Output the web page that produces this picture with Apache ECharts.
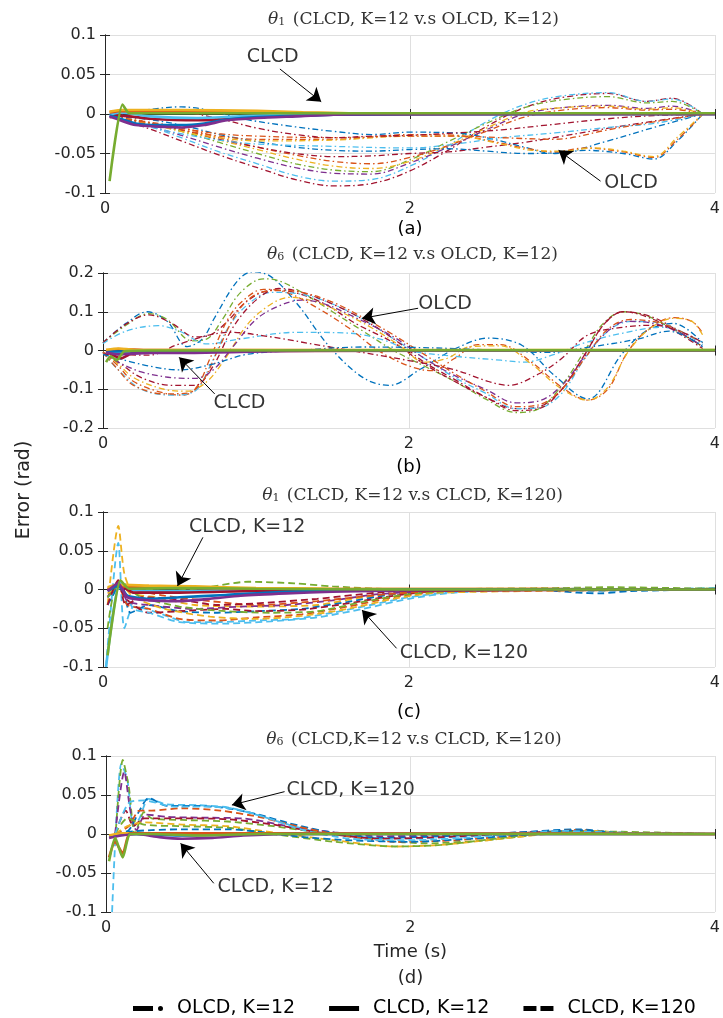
<!DOCTYPE html>
<html>
<head>
<meta charset="UTF-8">
<title>Tracking error, CLCD vs OLCD</title>
<script src="https://cdn.jsdelivr.net/npm/echarts@6/dist/echarts.min.js"></script>
<style>html,body,#container{width:100%;height:100%;margin:0;padding:0;background:#fff;}</style>
</head>
<body>
<div id="container"></div>
<script>
// MATLAB default colour order
var col = {blue:'#0072BD', orange:'#D95319', yellow:'#EDB120', purple:'#7E2F8E', green:'#77AC30', lblue:'#4DBEEE', red:'#A2142F'};

// ---------- (a) theta1, CLCD K=12 vs OLCD K=12 ----------
var aOlRed1 = [[0.05,-0.003],[0.1,-0.008],[0.25,-0.016],[0.5,-0.034],[0.75,-0.052],[1,-0.068],[1.25,-0.083],[1.5,-0.091],[1.75,-0.088],[2,-0.072],[2.25,-0.046],[2.5,-0.016],[2.75,0.008],[3,0.021],[3.3,0.026],[3.55,0.016],[3.72,0.02],[3.92,0]];
var aOlLblue1 = [[0.05,-0.002],[0.1,-0.006],[0.25,-0.013],[0.5,-0.03],[0.75,-0.048],[1,-0.063],[1.25,-0.078],[1.5,-0.085],[1.75,-0.083],[2,-0.066],[2.25,-0.04],[2.5,-0.01],[2.75,0.012],[3,0.023],[3.3,0.027],[3.55,0.016],[3.72,0.019],[3.92,0]];
var aOlPurple1 = [[0.05,-0.003],[0.1,-0.008],[0.25,-0.013],[0.5,-0.027],[0.75,-0.042],[1,-0.056],[1.25,-0.068],[1.5,-0.075],[1.75,-0.076],[2,-0.062],[2.25,-0.042],[2.5,-0.02],[2.75,0],[3,0.008],[3.3,0.011],[3.55,0.007],[3.72,0.01],[3.92,0]];
var aOlGreen1 = [[0.05,-0.002],[0.1,-0.006],[0.25,-0.01],[0.5,-0.022],[0.75,-0.036],[1,-0.05],[1.25,-0.063],[1.5,-0.071],[1.75,-0.073],[2,-0.058],[2.25,-0.035],[2.5,-0.012],[2.75,0.008],[3,0.018],[3.3,0.022],[3.55,0.014],[3.72,0.016],[3.92,0]];
var aOlYellow1 = [[0.05,-0.002],[0.1,-0.005],[0.25,-0.01],[0.5,-0.02],[0.75,-0.033],[1,-0.045],[1.25,-0.057],[1.5,-0.066],[1.75,-0.069],[2,-0.06],[2.25,-0.04],[2.5,-0.018],[2.75,0.002],[3,0.008],[3.3,0.01],[3.55,0.006],[3.72,0.008],[3.92,0]];
var aOlOrange1 = [[0.05,-0.002],[0.1,-0.005],[0.25,-0.009],[0.5,-0.017],[0.75,-0.03],[1,-0.042],[1.25,-0.052],[1.5,-0.06],[1.75,-0.063],[2,-0.055],[2.25,-0.04],[2.5,-0.022],[2.75,-0.004],[3,0.005],[3.3,0.008],[3.55,0.005],[3.72,0.006],[3.92,0]];
var aOlRed2 = [[0.05,-0.003],[0.1,-0.006],[0.25,-0.01],[0.5,-0.02],[0.75,-0.032],[1,-0.042],[1.25,-0.05],[1.5,-0.054],[1.75,-0.053],[2,-0.05],[2.25,-0.048],[2.5,-0.042],[2.75,-0.036],[3,-0.028],[3.3,-0.018],[3.6,-0.009],[3.92,0]];
var aOlBlue1 = [[0.05,-0.002],[0.1,-0.004],[0.25,-0.006],[0.5,-0.014],[0.75,-0.026],[1,-0.035],[1.25,-0.042],[1.5,-0.046],[1.75,-0.047],[2,-0.045],[2.25,-0.044],[2.5,-0.047],[2.75,-0.05],[2.98,-0.049],[3.3,-0.034],[3.6,-0.017],[3.92,0]];
var aOlBlue2 = [[0.05,-0.002],[0.15,0.001],[0.3,0.006],[0.5,0.009],[0.7,0.004],[0.9,-0.006],[1.2,-0.015],[1.5,-0.022],[1.75,-0.026],[2,-0.023],[2.3,-0.024],[2.55,-0.032],[2.75,-0.042],[2.95,-0.05],[3.15,-0.046],[3.4,-0.05],[3.6,-0.057],[3.75,-0.035],[3.92,0]];
var aOlOrange2 = [[0.05,-0.004],[0.2,-0.01],[0.5,-0.02],[0.75,-0.028],[1,-0.032],[1.5,-0.032],[2,-0.026],[2.3,-0.027],[2.55,-0.035],[2.75,-0.043],[2.95,-0.048],[3.15,-0.043],[3.4,-0.048],[3.6,-0.055],[3.75,-0.033],[3.92,0]];
var aOlYellow2 = [[0.05,-0.004],[0.2,-0.008],[0.5,-0.022],[0.75,-0.03],[1,-0.034],[1.5,-0.033],[2,-0.028],[2.3,-0.028],[2.6,-0.038],[2.8,-0.046],[3,-0.047],[3.2,-0.043],[3.4,-0.047],[3.6,-0.054],[3.75,-0.03],[3.92,0]];
var aOlLblue2 = [[0.05,-0.003],[0.2,-0.012],[0.5,-0.025],[0.75,-0.033],[1,-0.038],[1.5,-0.041],[2,-0.043],[2.3,-0.038],[2.6,-0.03],[2.95,-0.024],[3.3,-0.017],[3.6,-0.012],[3.92,0]];
var aOlOrange3 = [[0.05,-0.003],[0.2,-0.008],[0.5,-0.018],[0.75,-0.025],[1,-0.028],[1.5,-0.03],[2,-0.028],[2.3,-0.028],[2.6,-0.03],[2.95,-0.032],[3.3,-0.02],[3.6,-0.01],[3.92,0]];
var aOlRed3 = [[0.05,-0.002],[0.25,0.005],[0.5,0.003],[0.75,-0.006],[1,-0.018],[1.25,-0.026],[1.5,-0.03],[1.75,-0.028],[2,-0.027],[2.3,-0.024],[2.6,-0.02],[2.9,-0.014],[3.3,-0.006],[3.6,-0.002],[3.92,0]];

var aClPurple = [[0.03,-0.003],[0.1,-0.008],[0.2,-0.014],[0.35,-0.016],[0.5,-0.017],[0.65,-0.014],[0.8,-0.008],[1,-0.005],[1.25,-0.003],[1.5,-0.001],[2,0],[4,0]];
var aClBlue = [[0.03,-0.002],[0.1,-0.006],[0.2,-0.012],[0.35,-0.014],[0.5,-0.014],[0.65,-0.012],[0.8,-0.007],[1,-0.004],[1.5,-0.001],[2,0],[4,0]];
var aClYellow = [[0.03,0.003],[0.1,0.005],[0.5,0.005],[1,0.004],[1.3,0.002],[1.6,0.001],[4,0.001]];
var aClOrange = [[0.03,0.002],[0.1,0.004],[0.5,0.003],[1,0.002],[1.5,0.001],[4,0]];
var aClRed = [[0.03,-0.004],[0.1,-0.002],[0.3,-0.006],[0.6,-0.008],[1,-0.004],[1.5,-0.001],[4,0]];
var aClLblue = [[0.03,-0.001],[0.1,0.002],[0.3,-0.003],[0.6,-0.005],[1,-0.002],[1.5,0],[4,0]];
var aClGreen = [[0.03,-0.085],[0.115,0.012],[0.16,0.001],[0.5,0.001],[1,0.001],[2,0.001],[3,0.001],[4,0.001]];

var aLabels = [[1.10,0.072,'CLCD'],[3.45,-0.087,'OLCD']];
var aArrows = [[1.147,0.057,1.418,0.0156],[3.25,-0.085,2.975,-0.046]];

// ---------- (b) theta6, CLCD K=12 vs OLCD K=12 ----------
var bOlBlue1 = [[0,0.02],[0.15,0.07],[0.29,0.1],[0.42,0.075],[0.55,0.01],[0.65,0.03],[0.73,0.085],[0.88,0.18],[0.98,0.203],[1.1,0.19],[1.27,0.12],[1.48,0.01],[1.7,-0.07],[1.87,-0.09],[2.08,-0.047],[2.3,0.004],[2.52,0.032],[2.74,0.013],[2.95,-0.064],[3.17,-0.125],[3.39,-0.01],[3.55,0.05],[3.73,0.07],[3.92,0.02]];
var bOlGreen1 = [[0,0.02],[0.15,0.065],[0.3,0.095],[0.42,0.08],[0.58,0.025],[0.68,0.03],[0.78,0.08],[0.9,0.15],[1.05,0.185],[1.15,0.18],[1.3,0.15],[1.5,0.1],[1.7,0.05],[1.9,0],[2.1,-0.04],[2.3,-0.08],[2.5,-0.125],[2.7,-0.16],[2.85,-0.15],[3,-0.09],[3.15,0],[3.27,0.07],[3.4,0.1],[3.55,0.09],[3.75,0.05],[3.92,0.01]];
var bOlRed1 = [[0,0.02],[0.15,0.068],[0.3,0.092],[0.45,0.07],[0.6,0.035],[0.7,0.04],[0.8,0.07],[0.95,0.13],[1.1,0.155],[1.25,0.15],[1.45,0.12],[1.65,0.07],[1.9,0.02],[2.1,-0.035],[2.3,-0.08],[2.5,-0.12],[2.7,-0.15],[2.85,-0.145],[3,-0.1],[3.15,-0.01],[3.28,0.07],[3.4,0.1],[3.6,0.085],[3.78,0.045],[3.92,0.01]];
var bOlLblue1 = [[0,0.018],[0.15,0.05],[0.36,0.064],[0.5,0.05],[0.68,0.017],[0.9,0.03],[1.27,0.047],[1.6,0.045],[1.85,0.025],[2,0],[2.3,-0.015],[2.6,-0.025],[2.75,-0.03],[2.95,-0.01],[3.15,0.02],[3.4,0.045],[3.65,0.06],[3.8,0.045],[3.92,0.02]];
var bOlOrange1 = [[0,-0.005],[0.1,-0.04],[0.2,-0.08],[0.4,-0.11],[0.53,-0.115],[0.62,-0.09],[0.7,-0.02],[0.83,0.09],[0.95,0.14],[1.05,0.158],[1.2,0.15],[1.4,0.11],[1.6,0.06],[1.8,0],[2,-0.04],[2.15,-0.052],[2.3,-0.02],[2.45,0.015],[2.6,0.015],[2.8,-0.03],[3,-0.095],[3.17,-0.128],[3.3,-0.1],[3.42,-0.01],[3.55,0.05],[3.73,0.085],[3.85,0.075],[3.92,0.045]];
var bOlYellow1 = [[0,-0.003],[0.1,-0.035],[0.2,-0.07],[0.4,-0.1],[0.55,-0.105],[0.68,-0.08],[0.8,-0.02],[0.95,0.07],[1.1,0.12],[1.22,0.137],[1.35,0.13],[1.55,0.1],[1.75,0.06],[1.95,0.01],[2.1,-0.03],[2.25,-0.02],[2.4,0.01],[2.6,0.012],[2.8,-0.035],[3,-0.1],[3.17,-0.128],[3.3,-0.095],[3.43,-0.005],[3.57,0.055],[3.73,0.083],[3.85,0.075],[3.92,0.04]];
var bOlLblue2 = [[0,-0.005],[0.1,-0.05],[0.25,-0.1],[0.45,-0.115],[0.6,-0.105],[0.7,-0.04],[0.82,0.06],[0.95,0.12],[1.1,0.15],[1.3,0.145],[1.5,0.12],[1.7,0.08],[1.9,0.03],[2.1,-0.02],[2.3,-0.07],[2.5,-0.11],[2.7,-0.15],[2.85,-0.148],[3,-0.11],[3.15,-0.02],[3.3,0.05],[3.45,0.075],[3.65,0.07],[3.8,0.045],[3.92,0.015]];
var bOlRed2 = [[0,-0.005],[0.1,-0.03],[0.25,-0.07],[0.45,-0.09],[0.6,-0.09],[0.72,-0.04],[0.85,0.06],[1,0.13],[1.15,0.16],[1.3,0.15],[1.5,0.12],[1.7,0.08],[1.9,0.03],[2.1,-0.03],[2.3,-0.075],[2.5,-0.12],[2.7,-0.155],[2.85,-0.15],[3,-0.1],[3.15,-0.01],[3.28,0.07],[3.4,0.1],[3.6,0.08],[3.78,0.04],[3.92,0.005]];
var bOlPurple1 = [[0,-0.005],[0.1,-0.03],[0.25,-0.055],[0.45,-0.07],[0.6,-0.072],[0.72,-0.05],[0.85,0.01],[1,0.08],[1.15,0.115],[1.3,0.13],[1.45,0.12],[1.65,0.085],[1.9,0.035],[2.1,-0.02],[2.3,-0.065],[2.5,-0.1],[2.7,-0.135],[2.85,-0.13],[3,-0.09],[3.15,-0.015],[3.3,0.05],[3.42,0.075],[3.6,0.07],[3.8,0.04],[3.92,0.01]];
var bOlOrange2 = [[0,-0.005],[0.1,-0.05],[0.2,-0.09],[0.4,-0.112],[0.55,-0.11],[0.65,-0.08],[0.75,0],[0.88,0.1],[1,0.145],[1.15,0.155],[1.3,0.15],[1.5,0.125],[1.7,0.085],[1.9,0.04],[2.1,-0.01],[2.3,-0.06],[2.5,-0.105],[2.7,-0.145],[2.85,-0.14],[3,-0.1],[3.15,-0.02],[3.3,0.055],[3.45,0.08],[3.65,0.07],[3.8,0.045],[3.92,0.02]];
var bOlRed3 = [[0,-0.01],[0.3,-0.012],[0.5,0.017],[0.83,0.047],[1.05,0.038],[1.48,0.009],[2,-0.026],[2.3,-0.05],[2.52,-0.08],[2.65,-0.09],[2.85,-0.06],[3,-0.02],[3.17,0.04],[3.4,0.06],[3.6,0.065],[3.8,0.045],[3.92,0.02]];
var bOlBlue2 = [[0,-0.01],[0.3,-0.04],[0.5,-0.05],[0.72,-0.035],[0.94,-0.01],[1.27,0],[1.7,0.009],[2,0.008],[2.3,0.005],[2.6,0],[2.9,-0.005],[3.2,0.01],[3.5,0.03],[3.7,0.05],[3.92,0.01]];

var bClPurple = [[0.02,-0.005],[0.1,-0.01],[0.3,-0.006],[0.6,-0.006],[0.9,-0.004],[1.2,-0.001],[1.6,0],[4,0]];
var bClYellow = [[0.02,0.002],[0.1,0.005],[0.2,0.002],[4,0.001]];
var bClBlue = [[0.02,-0.003],[0.3,-0.002],[1,0],[4,0]];
var bClRed = [[0.02,-0.002],[0.12,-0.02],[0.2,-0.005],[0.5,-0.002],[4,0]];
var bClOrange = [[0.02,-0.004],[0.1,0.004],[0.3,0.001],[4,0]];
var bClGreen = [[0.02,-0.03],[0.05,-0.015],[0.09,-0.025],[0.14,-0.002],[0.3,0],[4,0.001]];

var bLabels = [[2.236,0.119,'OLCD'],[0.892,-0.1355,'CLCD']];
var bArrows = [[2.06,0.109,1.693,0.083],[0.73,-0.112,0.4976,-0.0176]];

// ---------- (c) theta1, CLCD K=12 vs CLCD K=120 ----------
var cK120Yellow1 = [[0.03,-0.02],[0.1,0.082],[0.14,0.02],[0.2,-0.005],[0.35,-0.01],[0.6,-0.02],[1,-0.022],[1.4,-0.02],[1.7,-0.01],[2,-0.004],[2.3,-0.001],[3,0],[3.5,0.001],[4,0]];
var cK120Lblue1 = [[0.02,-0.1],[0.1,0.06],[0.14,-0.05],[0.2,-0.022],[0.28,-0.025],[0.4,-0.033],[0.55,-0.042],[0.75,-0.042],[1,-0.04],[1.25,-0.038],[1.5,-0.03],[1.75,-0.02],[2,-0.01],[2.3,-0.003],[2.8,0],[3.2,-0.002],[3.6,0],[4,0.002]];
var cK120Green1 = [[0.03,-0.05],[0.1,0.01],[0.2,0.003],[0.4,-0.002],[0.65,0.002],[0.95,0.01],[1.25,0.008],[1.5,0.004],[2,0],[2.5,0.001],[3,0.002],[3.3,0.003],[4,0.001]];
var cK120Blue1 = [[0.03,-0.02],[0.12,0.008],[0.18,-0.03],[0.3,-0.02],[0.5,-0.028],[0.75,-0.03],[1,-0.028],[1.3,-0.025],[1.6,-0.016],[1.9,-0.006],[2.3,-0.001],[2.8,0],[3.1,-0.004],[3.25,-0.005],[3.45,-0.002],[4,0]];
var cK120Orange1 = [[0.03,-0.01],[0.1,0.005],[0.16,-0.02],[0.3,-0.025],[0.5,-0.038],[0.75,-0.04],[1,-0.036],[1.3,-0.032],[1.6,-0.022],[1.9,-0.01],[2.2,-0.003],[2.8,0.001],[4,0]];
var cK120Red1 = [[0.03,-0.01],[0.1,0.005],[0.15,-0.012],[0.3,-0.03],[0.5,-0.028],[0.8,-0.025],[1,-0.028],[1.3,-0.026],[1.6,-0.018],[1.9,-0.008],[2.2,-0.002],[3,0],[4,0]];
var cK120Purple1 = [[0.03,-0.01],[0.1,0.01],[0.16,-0.015],[0.3,-0.02],[0.6,-0.025],[0.9,-0.022],[1.2,-0.02],[1.5,-0.014],[1.8,-0.006],[2.2,-0.002],[4,0]];
var cK120Lblue2 = [[0.03,-0.01],[0.12,0.002],[0.2,-0.025],[0.3,-0.03],[0.5,-0.042],[0.8,-0.044],[1.1,-0.041],[1.4,-0.036],[1.7,-0.025],[2,-0.012],[2.3,-0.004],[3,0.001],[4,0]];
var cK120Yellow2 = [[0.03,-0.005],[0.12,0.005],[0.2,-0.01],[0.4,-0.025],[0.7,-0.035],[1,-0.038],[1.3,-0.034],[1.6,-0.025],[1.9,-0.012],[2.2,-0.004],[4,0]];
var cK120Green2 = [[0.03,-0.01],[0.12,0.006],[0.25,-0.01],[0.5,-0.022],[0.8,-0.028],[1.1,-0.03],[1.4,-0.028],[1.7,-0.016],[2,-0.006],[2.4,-0.001],[4,0.001]];
var cK120Orange2 = [[0.03,0],[0.1,0.008],[0.2,0],[0.4,-0.008],[0.7,-0.015],[1,-0.02],[1.4,-0.015],[1.8,-0.007],[2.2,-0.002],[4,0]];
var cK120Red2 = [[0.03,-0.02],[0.1,0.012],[0.15,-0.02],[0.25,-0.01],[0.5,-0.013],[0.75,-0.02],[1,-0.018],[1.4,-0.012],[1.8,-0.004],[2.2,0],[4,0]];

var cK12Lblue = [[0.02,-0.1],[0.11,0.01],[0.16,0],[0.5,-0.002],[1,0],[4,0]];
var cK12Purple = [[0.03,-0.002],[0.1,0.008],[0.16,-0.01],[0.3,-0.014],[0.5,-0.015],[0.7,-0.012],[0.9,-0.008],[1.2,-0.005],[1.5,-0.003],[2,-0.001],[4,0]];
var cK12Blue = [[0.03,-0.002],[0.1,0.005],[0.16,-0.008],[0.3,-0.012],[0.5,-0.01],[0.8,-0.007],[1.2,-0.003],[2,0],[4,0]];
var cK12Yellow = [[0.03,0.003],[0.1,0.006],[0.3,0.005],[0.6,0.004],[1,0.002],[1.5,0.001],[4,0]];
var cK12Orange = [[0.03,0.001],[0.1,0.004],[0.3,0.003],[0.6,0.002],[1.2,0.001],[4,0]];
var cK12Red = [[0.03,-0.001],[0.1,0.006],[0.2,-0.004],[0.5,-0.004],[1,-0.002],[4,0]];
var cK12Green = [[0.03,-0.085],[0.115,0.012],[0.17,0.001],[0.5,0.002],[1,0.001],[2,0],[4,0]];

var cLabels = [[0.943,0.08,'CLCD, K=12'],[2.359,-0.082,'CLCD, K=120']];
var cArrows = [[0.653,0.0673,0.487,0.0045],[1.919,-0.0759,1.693,-0.0265]];

// ---------- (d) theta6, CLCD K=12 vs CLCD K=120 ----------
var dK120Lblue1 = [[0.04,-0.1],[0.1,0.09],[0.14,0.07],[0.18,0.01],[0.22,0.02],[0.28,0.045],[0.4,0.038],[0.6,0.037],[0.8,0.034],[1,0.024],[1.2,0.012],[1.4,0.002],[1.7,-0.004],[2,-0.006],[2.4,-0.003],[2.8,0.002],[3.1,0.004],[3.4,0],[4,0]];
var dK120Green1 = [[0.06,-0.01],[0.11,0.095],[0.15,0.06],[0.19,0],[0.25,0.028],[0.3,0.02],[0.5,0.018],[0.8,0.016],[1.1,0.01],[1.4,0.002],[1.8,-0.008],[2.1,-0.012],[2.5,-0.008],[2.9,0.001],[3.1,0.005],[3.4,0],[4,0]];
var dK120Purple1 = [[0.06,0],[0.12,0.08],[0.16,0.03],[0.2,0.005],[0.26,0.025],[0.4,0.022],[0.6,0.021],[0.9,0.02],[1.2,0.01],[1.5,0.002],[1.8,-0.003],[2.2,-0.002],[2.6,0.001],[3,0.004],[3.3,0.002],[4,0]];
var dK120Blue1 = [[0.06,0],[0.15,0.005],[0.22,0.03],[0.28,0.046],[0.4,0.036],[0.6,0.036],[0.8,0.033],[1,0.025],[1.2,0.014],[1.45,0.003],[1.8,-0.005],[2.2,-0.003],[2.7,0.002],[3.1,0.006],[3.35,0.002],[4,0]];
var dK120Orange1 = [[0.06,0],[0.15,0.01],[0.22,0.03],[0.3,0.03],[0.5,0.033],[0.75,0.03],[1,0.022],[1.25,0.01],[1.5,0],[1.9,-0.01],[2.3,-0.008],[2.8,0],[3.1,0.005],[3.4,0.001],[4,0]];
var dK120Red1 = [[0.06,0],[0.13,0.03],[0.18,0.01],[0.25,0.02],[0.5,0.02],[0.8,0.019],[1.1,0.012],[1.4,0.002],[1.8,-0.006],[2.2,-0.004],[2.7,0.001],[3.1,0.004],[3.4,0],[4,0]];
var dK120Yellow1 = [[0.06,0],[0.14,0.01],[0.25,0.015],[0.5,0.012],[0.8,0.01],[1.1,0.002],[1.5,-0.008],[1.9,-0.016],[2.2,-0.014],[2.6,-0.006],[3,0.002],[3.2,0.004],[3.5,0],[4,0]];
var dK120Green2 = [[0.06,0],[0.14,0.02],[0.25,0.012],[0.5,0.01],[0.8,0.008],[1.1,0],[1.5,-0.01],[1.9,-0.016],[2.2,-0.014],[2.6,-0.005],[3,0.003],[3.3,0.003],[4,0]];
var dK120Blue2 = [[0.06,0],[0.15,0.003],[0.3,0.005],[0.5,0.006],[0.8,0.006],[1,0.003],[1.3,-0.004],[1.6,-0.008],[2,-0.01],[2.4,-0.006],[2.8,0],[3.1,0.005],[3.4,0.001],[4,0]];
var dK120Lblue2 = [[0.06,0],[0.15,0.04],[0.25,0.043],[0.45,0.035],[0.7,0.035],[0.9,0.03],[1.1,0.018],[1.3,0.005],[1.6,-0.006],[2,-0.008],[2.5,-0.003],[3,0.004],[3.3,0.002],[4,0]];

var dK12Orange = [[0.02,-0.03],[0.06,-0.01],[0.11,-0.025],[0.16,0.001],[0.5,0.001],[4,0]];
var dK12Yellow = [[0.02,-0.002],[0.1,0.001],[0.5,0.001],[4,0]];
var dK12Purple = [[0.02,-0.005],[0.1,-0.002],[0.2,0],[0.35,-0.004],[0.5,-0.006],[0.7,-0.005],[0.9,-0.002],[1.2,0],[4,0]];
var dK12Blue = [[0.02,-0.003],[0.16,0],[0.5,-0.002],[1,0],[4,0]];
var dK12Green = [[0.02,-0.035],[0.06,-0.005],[0.11,-0.03],[0.16,0],[0.3,0],[0.6,-0.002],[1,0],[4,0]];

var dLabels = [[1.607,0.0564,'CLCD, K=120'],[1.114,-0.068,'CLCD, K=12']];
var dArrows = [[1.173,0.0543,0.827,0.0372],[0.708,-0.0632,0.49,-0.012]];

// axis ticks
var xTicks = {min: 0, max: 4, interval: 2};
var yTicks = [[-0.1, 0.1, 0.05], [-0.2, 0.2, 0.1], [-0.1, 0.1, 0.05], [-0.1, 0.1, 0.05]];

var titles = [
  '{i|θ}{s|1} (CLCD, K=12 v.s OLCD, K=12)',
  '{i|θ}{s|6} (CLCD, K=12 v.s OLCD, K=12)',
  '{i|θ}{s|1} (CLCD, K=12 v.s CLCD, K=120)',
  '{i|θ}{s|6} (CLCD,K=12 v.s CLCD, K=120)'
];
var subNames = ['(a)', '(b)', '(c)', 'Time (s)\n(d)'];
var legendNames = ['OLCD, K=12', 'CLCD, K=12', 'CLCD, K=120'];
// legend glyphs: dash + dot, solid bar, two dashes (32 x 5 box)
var legendIcons = [
  'path://M0,0H20V5H0Z M25,2.5A2.5,2.5 0 1,0 30,2.5A2.5,2.5 0 1,0 25,2.5Z',
  'path://M0,0H30V5H0Z',
  'path://M0,0H13V5H0Z M17,0H30V5H17Z'
];

// ---------- layout ----------
var grids = [
  {left: 105, top: 35, height: 158},
  {left: 103, top: 273, height: 155},
  {left: 103, top: 512, height: 155},
  {left: 106, top: 756, height: 156}
];
var titleTop = [11, 246, 487, 731];
var nameGap = [26, 29, 35, 27];
var sans = 'DejaVu Sans';
var ink = '#262626';

var panels = [
  {
    olcd: [[col.red, aOlRed1], [col.lblue, aOlLblue1], [col.purple, aOlPurple1], [col.green, aOlGreen1], [col.yellow, aOlYellow1], [col.orange, aOlOrange1], [col.red, aOlRed2], [col.blue, aOlBlue1], [col.blue, aOlBlue2], [col.orange, aOlOrange2], [col.yellow, aOlYellow2], [col.lblue, aOlLblue2], [col.orange, aOlOrange3], [col.red, aOlRed3]],
    k120: [],
    k12: [[col.red, aClRed], [col.lblue, aClLblue], [col.orange, aClOrange], [col.yellow, aClYellow], [col.blue, aClBlue], [col.purple, aClPurple], [col.green, aClGreen]],
    labels: aLabels, arrows: aArrows
  },
  {
    olcd: [[col.blue, bOlBlue1], [col.green, bOlGreen1], [col.red, bOlRed1], [col.lblue, bOlLblue1], [col.orange, bOlOrange1], [col.yellow, bOlYellow1], [col.lblue, bOlLblue2], [col.red, bOlRed2], [col.purple, bOlPurple1], [col.orange, bOlOrange2], [col.red, bOlRed3], [col.blue, bOlBlue2]],
    k120: [],
    k12: [[col.red, bClRed], [col.orange, bClOrange], [col.blue, bClBlue], [col.yellow, bClYellow], [col.purple, bClPurple], [col.green, bClGreen]],
    labels: bLabels, arrows: bArrows
  },
  {
    olcd: [],
    k120: [[col.yellow, cK120Yellow1], [col.lblue, cK120Lblue1], [col.green, cK120Green1], [col.blue, cK120Blue1], [col.orange, cK120Orange1], [col.red, cK120Red1], [col.purple, cK120Purple1], [col.lblue, cK120Lblue2], [col.yellow, cK120Yellow2], [col.green, cK120Green2], [col.orange, cK120Orange2], [col.red, cK120Red2]],
    k12: [[col.lblue, cK12Lblue], [col.red, cK12Red], [col.orange, cK12Orange], [col.yellow, cK12Yellow], [col.blue, cK12Blue], [col.purple, cK12Purple], [col.green, cK12Green]],
    labels: cLabels, arrows: cArrows
  },
  {
    olcd: [],
    k120: [[col.lblue, dK120Lblue1], [col.green, dK120Green1], [col.purple, dK120Purple1], [col.blue, dK120Blue1], [col.orange, dK120Orange1], [col.red, dK120Red1], [col.yellow, dK120Yellow1], [col.green, dK120Green2], [col.blue, dK120Blue2], [col.lblue, dK120Lblue2]],
    k12: [[col.blue, dK12Blue], [col.yellow, dK12Yellow], [col.orange, dK12Orange], [col.purple, dK12Purple], [col.green, dK12Green]],
    labels: dLabels, arrows: dArrows
  }
];

var dashDot = [6, 3, 1.5, 3];
var dashed = [7, 4];

var option = {
  animation: false,
  backgroundColor: '#fff',
  title: [], grid: [], xAxis: [], yAxis: [], series: [],
  legend: {
    data: legendNames.map(function (n, k) { return {name: n, icon: legendIcons[k]}; }),
    left: 128, top: 994, itemWidth: 32, itemHeight: 5, itemGap: 34,
    selectedMode: false,
    textStyle: {fontFamily: sans, fontSize: 19, color: '#000', padding: [0, 0, 0, 8]}
  },
  graphic: [{
    type: 'text', x: 24, y: 490, rotation: Math.PI / 2,
    style: {text: 'Error (rad)', fontFamily: sans, fontSize: 19, fill: ink, align: 'center', verticalAlign: 'middle'}
  }]
};

panels.forEach(function (p, i) {
  var g = grids[i];
  option.grid.push({left: g.left, top: g.top, height: g.height, right: 1, containLabel: false});
  var plotMid = g.left + (722 - g.left) / 2;
  option.title.push({
    text: titles[i], left: plotMid, top: titleTop[i], textAlign: 'center', padding: 0,
    textStyle: {
      fontFamily: 'DejaVu Serif', fontSize: 17, fontWeight: 'normal', color: '#333',
      rich: {
        i: {fontFamily: 'DejaVu Serif', fontSize: 17, fontStyle: 'italic', color: '#333'},
        s: {fontFamily: 'DejaVu Serif', fontSize: 11, color: '#333', verticalAlign: 'bottom', padding: [6, 2, 0, 0]}
      }
    }
  });
  var axLine = {show: true, lineStyle: {color: ink, width: 1}};
  option.xAxis.push({
    type: 'value', gridIndex: i, min: xTicks.min, max: xTicks.max, interval: xTicks.interval,
    axisLine: axLine, axisTick: {inside: true, length: 5, lineStyle: {color: ink}},
    axisLabel: {fontFamily: sans, fontSize: 16, color: ink, margin: 8},
    splitLine: {show: true, lineStyle: {color: '#dfdfdf'}},
    name: subNames[i], nameLocation: 'middle', nameGap: nameGap[i],
    nameTextStyle: {fontFamily: sans, fontSize: 18, color: i === 3 ? ink : '#000', lineHeight: i === 3 ? 26 : 20}
  });
  option.xAxis.push({
    type: 'value', gridIndex: i, position: 'top', min: xTicks.min, max: xTicks.max, interval: xTicks.interval,
    axisLine: axLine, axisTick: {inside: true, length: 5, lineStyle: {color: ink}},
    axisLabel: {show: false}, splitLine: {show: false}
  });
  var yt = yTicks[i];
  option.yAxis.push({
    type: 'value', gridIndex: i, min: yt[0], max: yt[1], interval: yt[2],
    axisLine: axLine, axisTick: {show: true, inside: true, length: 5, lineStyle: {color: ink}},
    axisLabel: {fontFamily: sans, fontSize: 16, color: ink, margin: 9},
    splitLine: {show: true, lineStyle: {color: '#dfdfdf'}}
  });
  option.yAxis.push({
    type: 'value', gridIndex: i, position: 'right', min: yt[0], max: yt[1], interval: yt[2],
    axisLine: axLine, axisTick: {show: true, inside: true, length: 5, lineStyle: {color: ink}},
    axisLabel: {show: false}, splitLine: {show: false}
  });
  var xi = 2 * i, yi = 2 * i;
  function line(c, data, kind) {
    var s = {type: 'line', xAxisIndex: xi, yAxisIndex: yi, data: data, symbol: 'none', silent: true};
    if (kind === 'olcd') { s.smooth = 0.35; s.lineStyle = {color: c, width: 1.3, type: dashDot}; s.z = 2; }
    if (kind === 'k120') { s.smooth = 0.25; s.lineStyle = {color: c, width: 1.8, type: dashed}; s.z = 3; }
    if (kind === 'k12') { s.smooth = 0.2; s.lineStyle = {color: c, width: 2.6}; s.z = 4; }
    s.itemStyle = {color: c};
    return s;
  }
  p.olcd.forEach(function (d) { option.series.push(line(d[0], d[1], 'olcd')); });
  p.k120.forEach(function (d) { option.series.push(line(d[0], d[1], 'k120')); });
  p.k12.forEach(function (d) { option.series.push(line(d[0], d[1], 'k12')); });
  // annotation texts
  option.series.push({
    type: 'scatter', xAxisIndex: xi, yAxisIndex: yi, data: p.labels, symbolSize: 0, silent: true, z: 10,
    itemStyle: {color: '#000'},
    label: {show: true, position: 'inside', formatter: function (q) { return q.value[2]; }, fontFamily: sans, fontSize: 19, color: '#000'}
  });
  // annotation arrows
  option.series.push({
    type: 'line', xAxisIndex: xi, yAxisIndex: yi, data: [], symbol: 'none', silent: true, z: 10,
    itemStyle: {color: '#000'}, lineStyle: {color: '#000'},
    markLine: {
      silent: true, symbol: ['none', 'arrow'], symbolSize: 13, animation: false,
      itemStyle: {color: '#000'},
      lineStyle: {color: '#000', width: 1, type: 'solid'}, label: {show: false},
      data: p.arrows.map(function (a) { return [{coord: [a[0], a[1]]}, {coord: [a[2], a[3]]}]; })
    }
  });
});

// legend entries (drawn only in the legend)
legendNames.forEach(function (n) {
  option.series.push({name: n, type: 'line', xAxisIndex: 6, yAxisIndex: 6, data: [], symbol: 'none', itemStyle: {color: '#000'}, lineStyle: {color: '#000', width: 4}});
});

var myChart = echarts.init(document.getElementById('container'));
myChart.setOption(option);
window.onresize = function () { myChart.resize(); };
</script>
</body>
</html>
